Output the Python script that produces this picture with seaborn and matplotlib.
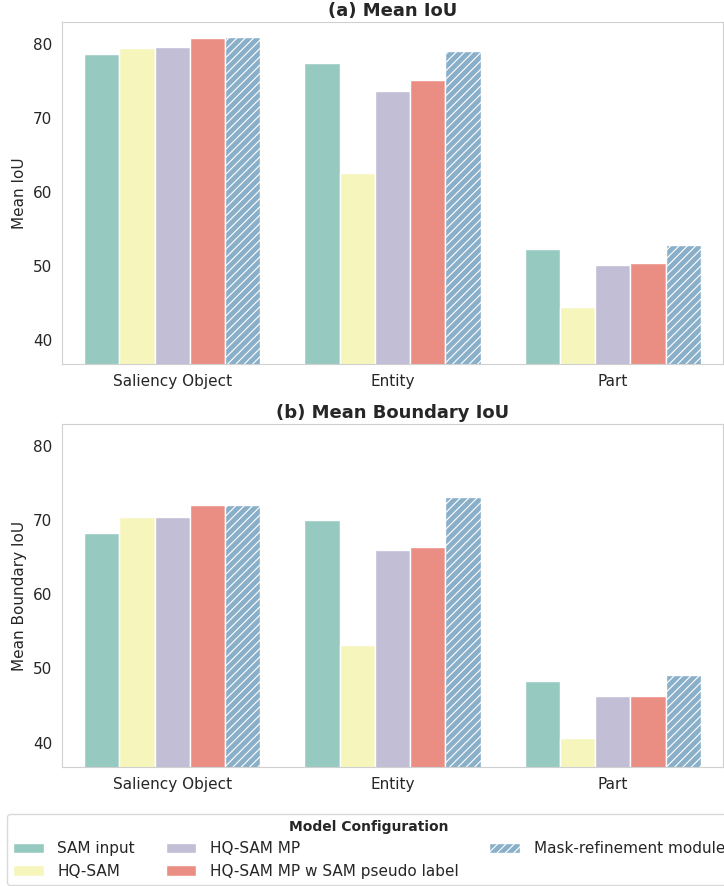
import numpy as np
import pandas as pd
import matplotlib
matplotlib.use("Agg")
import matplotlib.pyplot as plt
import matplotlib.patches as mpatches
import seaborn as sns

# --- Données ---
categories = ["Saliency Object", "Entity", "Part"]
models = ["SAM input", "HQ-SAM", "HQ-SAM MP", "HQ-SAM MP w SAM pseudo label",
          "Mask-refinement module"]

mean_iou = {
    "SAM input": [78.7, 77.4, 52.3],
    "HQ-SAM": [79.5, 62.6, 44.4],
    "HQ-SAM MP": [79.6, 73.7, 50.1],
    "HQ-SAM MP w SAM pseudo label": [80.9, 75.2, 50.4],
    "Mask-refinement module": [81.0, 79.1, 52.8],
}
mean_boundary_iou = {
    "SAM input": [68.3, 70.0, 48.3],
    "HQ-SAM": [70.5, 53.2, 40.6],
    "HQ-SAM MP": [70.5, 66.0, 46.3],
    "HQ-SAM MP w SAM pseudo label": [72.0, 66.4, 46.3],
    "Mask-refinement module": [72.0, 73.2, 49.1],
}

palette = ["#8dd3c7", "#ffffb3", "#bebada", "#fb8072", "#80b1d3"]


def to_long(d):
    rows = []
    for m in models:
        for c, v in zip(categories, d[m]):
            rows.append({"Category": c, "Model": m, "Value": v})
    return pd.DataFrame(rows)


sns.set_style("whitegrid")
plt.rcParams["font.family"] = ["DejaVu Sans"]
plt.rcParams["hatch.color"] = "white"
plt.rcParams["hatch.linewidth"] = 0.8

fig = plt.figure(figsize=(7.24, 8.86), dpi=100)
W, H = 724, 886
ax1 = fig.add_axes([62 / W, 1 - 364 / H, 661 / W, 342 / H])
ax2 = fig.add_axes([62 / W, 1 - 767 / H, 661 / W, 343 / H])

panels = [(ax1, mean_iou, "(a) Mean IoU", "Mean IoU"),
          (ax2, mean_boundary_iou, "(b) Mean Boundary IoU", "Mean Boundary IoU")]

for ax, data, title, ylabel in panels:
    df = to_long(data)
    sns.barplot(data=df, x="Category", y="Value", hue="Model", order=categories,
                hue_order=models, palette=palette, edgecolor="white",
                linewidth=1, ax=ax)
    for p in ax.containers[4].patches:
        p.set_hatch("////")
    ax.set_ylim(36.7, 83.0)
    ax.set_yticks([40, 50, 60, 70, 80])
    ax.grid(False)
    ax.set_xlabel("")
    ax.set_ylabel(ylabel, fontsize=11)
    ax.set_title(title, fontsize=13, fontweight="bold", pad=4)
    ax.tick_params(axis="both", labelsize=11)
    for s in ax.spines.values():
        s.set_color("#d0d0d0")
    ax.get_legend().remove()

# poignées de légende (couleurs désaturées comme seaborn)
handles = []
for i, m in enumerate(models):
    col = sns.desaturate(palette[i], 0.75)
    h = mpatches.Patch(facecolor=col, edgecolor="white", linewidth=1,
                       hatch="////" if i == 4 else None, label=m)
    handles.append(h)

leg = fig.legend(handles, models, loc="lower left", bbox_to_anchor=(7 / W, 1 / H),
                 ncol=3, fontsize=11, title="Model Configuration",
                 title_fontproperties={"weight": "bold", "size": 10},
                 frameon=True, handlelength=2.0, handletextpad=0.9,
                 columnspacing=2.0, borderaxespad=0)
leg.get_frame().set_edgecolor("#d0d0d0")

fig.savefig("out.png", dpi=100)
